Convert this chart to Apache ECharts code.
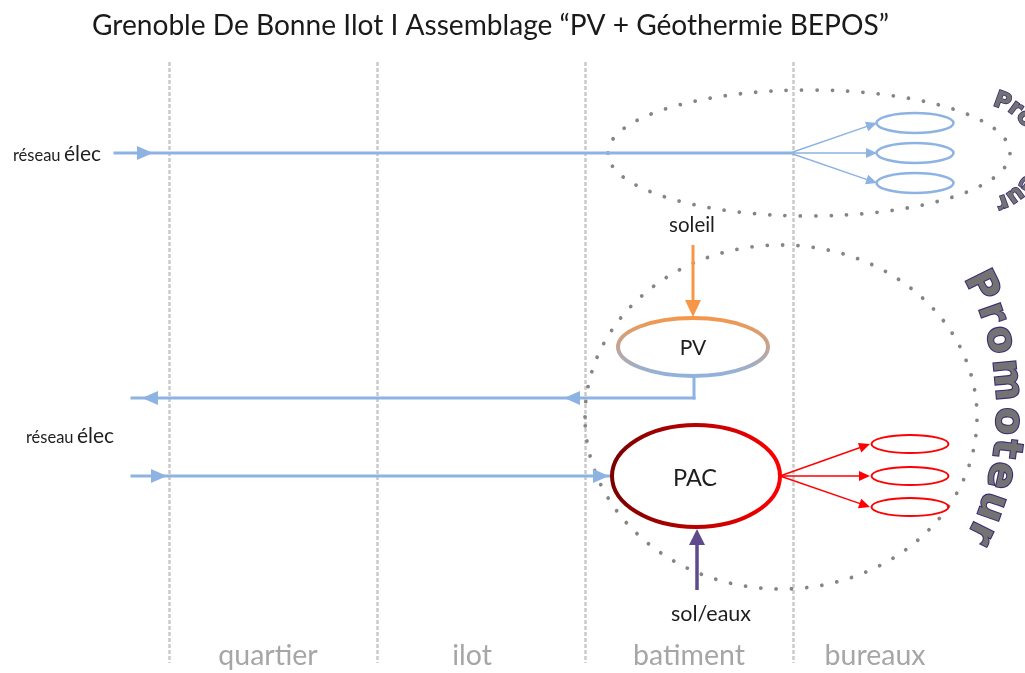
<!DOCTYPE html>
<html><head><meta charset="utf-8">
<script src="https://cdn.jsdelivr.net/npm/echarts@6/dist/echarts.min.js"></script>
<style>html,body{margin:0;padding:0;background:#fff}#c{width:1025px;height:673px}</style>
</head><body><div id="c"></div>
<script>
// ---------- data (diagram coordinates: x to the right, y downwards) ----------
const titleText = 'Grenoble De Bonne Ilot I Assemblage “PV + Géothermie BEPOS”';
const zones = ['quartier', 'ilot', 'batiment', 'bureaux'];
const perimeters = [[809, 153, 201, 63], [781, 417, 196, 172]];           // dotted outlines
const gridLinks = [[115, 153, 790, 153], [694, 376, 694, 398], [694, 398, 132, 398], [132, 476, 612, 476]];
const gridLinkHeads = [[153, 153, 0], [564, 398, 180], [142, 398, 180], [167, 476, 0], [609, 476, 0]];
const officeFeedsElec = [[790, 153, 877, 123], [790, 153, 877, 153], [790, 153, 877, 183]];
const officesElec = [[915, 123], [915, 153], [915, 183]];
const officeFeedsHeat = [[780, 476, 870, 444], [780, 476, 870, 476], [780, 476, 870, 507]];
const officesHeat = [[910, 444], [910, 476], [910, 507]];
const sunInput = [[693, 245, 693, 317]];
const groundInput = [[697, 590, 697, 529]];
const pvUnit = [[693, 347, 75, 29]];
const pacUnit = [[696, 476, 84, 51]];
const nodeLabels = ['soleil', 'PV', 'PAC', 'sol/eaux'];
const nodeLabelPos = [[692, 225], [693, 348], [695, 478], [711, 614]];
const gridLabelPos = [[57, 154], [70, 436]];
const promoteurText = 'Promoteur';
const promoteurArcs = [[984, 152, 53, 53, -70, 70], [880, 410, 127, 200, -38, 38]];

// ---------- styling / helpers ----------
const FONT = 'Lato, "Open Sans", sans-serif';
const BLUE = '#8db3e2', ORANGE = '#f79646', PURPLE = '#5f4b8b', RED = '#ff0000';
const mctx = document.createElement('canvas').getContext('2d');
function textWidth(t, font) { mctx.font = font; return mctx.measureText(t).width; }
function fitSize(t, family, target) {
  const w = textWidth(t, '100px ' + family);
  return Math.round(100 * target / w * 10) / 10;
}
const titleSize = fitSize(titleText, FONT, 796);

function headPoints(tip, ang, L, W) {
  const dx = Math.cos(ang), dy = Math.sin(ang);
  const bx = tip[0] - dx * L, by = tip[1] - dy * L;
  return [[tip[0], tip[1]], [bx - dy * W, by + dx * W], [bx + dy * W, by - dx * W]];
}
function segRender(color, width) {
  return function (params, api) {
    const a = api.coord([api.value(0), api.value(1)]), b = api.coord([api.value(2), api.value(3)]);
    return { type: 'line', silent: true, shape: { x1: a[0], y1: a[1], x2: b[0], y2: b[1] },
      style: { stroke: color, lineWidth: width, lineCap: 'square' } };
  };
}
function headRender(color, L, W) {
  return function (params, api) {
    const t = api.coord([api.value(0), api.value(1)]);
    const ang = api.value(2) * Math.PI / 180;
    return { type: 'polygon', silent: true, shape: { points: headPoints(t, ang, L, W) }, style: { fill: color } };
  };
}
function arrowRender(color, width, L, W) {
  return function (params, api) {
    const a = api.coord([api.value(0), api.value(1)]), b = api.coord([api.value(2), api.value(3)]);
    const ang = Math.atan2(b[1] - a[1], b[0] - a[0]);
    const back = [b[0] - Math.cos(ang) * L * 0.6, b[1] - Math.sin(ang) * L * 0.6];
    return { type: 'group', silent: true, children: [
      { type: 'line', shape: { x1: a[0], y1: a[1], x2: back[0], y2: back[1] }, style: { stroke: color, lineWidth: width } },
      { type: 'polygon', shape: { points: headPoints(b, ang, L, W) }, style: { fill: color } }
    ] };
  };
}
function ellipseRender(stroke, width, rx, ry) {
  return function (params, api) {
    const c = api.coord([api.value(0), api.value(1)]);
    const s = (rx != null) ? api.size([rx, ry]) : api.size([api.value(2), api.value(3)]);
    return { type: 'ellipse', silent: true, shape: { cx: c[0], cy: c[1], rx: s[0], ry: s[1] },
      style: { fill: 'none', stroke: stroke, lineWidth: width } };
  };
}
function dottedRender(params, api) {
  const c = api.coord([api.value(0), api.value(1)]);
  const s = api.size([api.value(2), api.value(3)]);
  return { type: 'ellipse', silent: true, shape: { cx: c[0], cy: c[1], rx: s[0], ry: s[1] },
    style: { fill: 'none', stroke: '#858585', lineWidth: 3.8, lineDash: [0.01, 15.3], lineCap: 'round' } };
}
const nodeLabelSize = [20.5, 21, 23.5, 21.5];
function nodeLabelRender(params, api) {
  const c = api.coord([api.value(0), api.value(1)]);
  const i = params.dataIndex;
  return { type: 'text', silent: true, x: c[0], y: c[1],
    style: { text: nodeLabels[i], font: nodeLabelSize[i] + 'px ' + FONT, fill: '#1e1e1e', align: 'center', verticalAlign: 'middle' } };
}
function gridLabelRender(params, api) {
  const c = api.coord([api.value(0), api.value(1)]);
  return { type: 'text', silent: true, x: c[0], y: c[1],
    style: { text: '{a|réseau} {b|élec}', align: 'center', verticalAlign: 'middle',
      rich: { a: { fontFamily: FONT, fontSize: 16.5, fill: '#1e1e1e', verticalAlign: 'bottom' },
              b: { fontFamily: FONT, fontSize: 21, fill: '#1e1e1e', verticalAlign: 'bottom' } } } };
}
const arcFontSize = [23, 40];
function arcTextRender(params, api) {
  const i = params.dataIndex;
  const c = api.coord([api.value(0), api.value(1)]);
  const s = api.size([api.value(2), api.value(3)]);
  const t0 = api.value(4) * Math.PI / 180, t1 = api.value(5) * Math.PI / 180;
  const font = 'bold ' + arcFontSize[i] + 'px "DejaVu Sans", sans-serif';
  const letters = promoteurText.split('');
  const w = letters.map(l => textWidth(l, font));
  const cen = []; let acc = 0;
  for (let k = 0; k < w.length; k++) { cen.push(acc + w[k] / 2); acc += w[k]; }
  const f = cen.map(v => (v - cen[0]) / (cen[cen.length - 1] - cen[0]));
  const N = 600, ts = [], Ls = [0];
  for (let k = 0; k <= N; k++) ts.push(t0 + (t1 - t0) * k / N);
  for (let k = 1; k <= N; k++) {
    const dx = s[0] * (Math.cos(ts[k]) - Math.cos(ts[k - 1])), dy = s[1] * (Math.sin(ts[k]) - Math.sin(ts[k - 1]));
    Ls.push(Ls[k - 1] + Math.hypot(dx, dy));
  }
  const total = Ls[N];
  const children = letters.map((l, k) => {
    const target = f[k] * total; let j = 0;
    while (j < N && Ls[j + 1] < target) j++;
    const t = ts[j];
    const x = c[0] + s[0] * Math.cos(t), y = c[1] + s[1] * Math.sin(t);
    const phi = Math.atan2(s[1] * Math.cos(t), -s[0] * Math.sin(t));
    return { type: 'text', x: x, y: y, rotation: -phi,
      style: { text: l, font: font, fill: '#737373', stroke: '#3f2d73', lineWidth: i ? 2.2 : 1.6, align: 'center', verticalAlign: 'middle' } };
  });
  return { type: 'group', silent: true, children: children };
}
function custom(data, renderItem) {
  return { type: 'custom', coordinateSystem: 'cartesian2d', xAxisIndex: 0, yAxisIndex: 0, data: data, renderItem: renderItem, silent: true };
}

const zoneShift = [5, 9, 0, 22];
const chart = echarts.init(document.getElementById('c'), null, { renderer: 'canvas' });
chart.setOption({
  animation: false,
  backgroundColor: '#ffffff',
  title: { text: titleText, left: 87, top: 7,
    textStyle: { fontFamily: FONT, fontSize: titleSize, fontWeight: 'normal', color: '#1a1a1a' } },
  grid: [{ left: 0, right: 0, top: 0, bottom: 0 }, { left: 169, right: 24, top: 62, bottom: 10 }],
  xAxis: [
    { type: 'value', min: 0, max: 1025, show: false, gridIndex: 0 },
    { type: 'category', gridIndex: 1, data: zones, boundaryGap: true,
      axisLine: { show: false }, axisTick: { show: false },
      axisLabel: { interval: 0, margin: -7, verticalAlign: 'middle', color: '#a6a6a6', fontFamily: FONT, fontSize: 28.5,
        formatter: (v, i) => '{s' + i + '|' + v + '}',
        rich: { s0: { padding: [0, 2 * zoneShift[0], 0, 0] }, s1: { padding: [0, 2 * zoneShift[1], 0, 0] },
                s2: { padding: [0, 2 * zoneShift[2], 0, 0] }, s3: { padding: [0, 2 * zoneShift[3], 0, 0] } } },
      splitLine: { show: true, interval: 0, showMinLine: true, showMaxLine: false,
        lineStyle: { color: '#cacaca', width: 2.5, type: [4, 2] } } }
  ],
  yAxis: [
    { type: 'value', min: 0, max: 673, inverse: true, show: false, gridIndex: 0 },
    { type: 'value', gridIndex: 1, show: false }
  ],
  series: [
    custom(perimeters, dottedRender),
    custom(gridLinks, segRender(BLUE, 3)),
    custom(gridLinkHeads, headRender(BLUE, 16, 7)),
    custom(officeFeedsElec, arrowRender(BLUE, 1.5, 11, 5)),
    custom(officesElec, ellipseRender(BLUE, 2.5, 38.5, 10)),
    custom(sunInput, arrowRender(ORANGE, 3, 17, 8)),
    custom(groundInput, arrowRender(PURPLE, 3.5, 16, 8)),
    custom(officeFeedsHeat, arrowRender(RED, 1.5, 11, 5)),
    custom(officesHeat, ellipseRender(RED, 2, 38.5, 9)),
    custom(pvUnit, ellipseRender(new echarts.graphic.LinearGradient(0, 0, 0, 1, [{ offset: 0, color: ORANGE }, { offset: 1, color: BLUE }]), 4)),
    custom(pacUnit, ellipseRender(new echarts.graphic.LinearGradient(0, 0, 1, 0, [{ offset: 0, color: '#7a0000' }, { offset: 0.55, color: '#c00000' }, { offset: 1, color: RED }]), 4)),
    custom(nodeLabelPos, nodeLabelRender),
    custom(gridLabelPos, gridLabelRender),
    custom(promoteurArcs, arcTextRender)
  ]
});
</script></body></html>
